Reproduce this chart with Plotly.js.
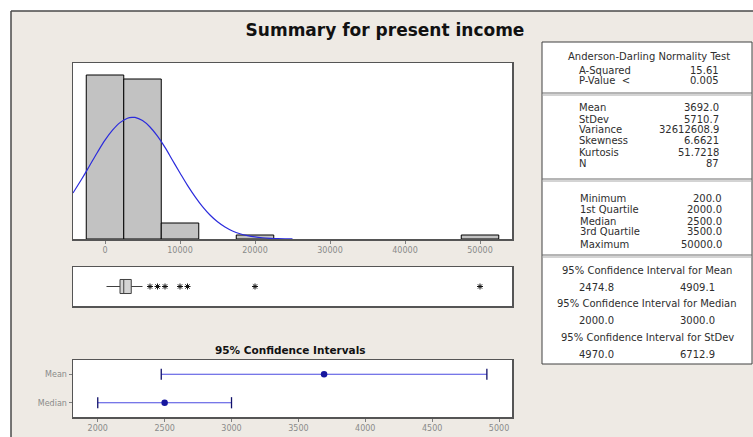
<!DOCTYPE html>
<html>
<head>
<meta charset="utf-8">
<script src="https://cdn.plot.ly/plotly-3.0.1.min.js"></script>
<style>html,body{margin:0;padding:0;background:#fff;}#chart{width:753px;height:437px;}</style>
</head>
<body>
<div id="chart"></div>
<script>
// ---------- data ----------
const histCenters = [0, 5000, 10000, 20000, 50000];
const histCounts = [41, 40, 4, 1, 1];
const histBinWidth = 5000;
const histTicks = [0, 10000, 20000, 30000, 40000, 50000];
const histTickText = ['0', '10000', '20000', '30000', '40000', '50000'];

// fitted normal curve (mean 3692.0, StDev 5710.7), read in bar-count units
const curveX = [-4267, -3000, -2000, -1000, 0, 1000, 2000, 3000, 3692, 4000, 5000, 6000, 7000, 8000, 9000, 10000, 11000, 12000, 13000, 14000, 15000, 16000, 17000, 18000, 19000, 20000, 21000, 22000, 23000, 24000, 25000];
const curveY = [11.5, 15.3, 18.5, 21.7, 24.7, 27.2, 29.1, 30.2, 30.4, 30.4, 29.6, 28.0, 25.7, 22.9, 19.7, 16.5, 13.4, 10.6, 8.1, 6.0, 4.3, 3.0, 2.0, 1.3, 0.84, 0.52, 0.31, 0.18, 0.10, 0.05, 0.03];

const boxLowerWhisker = [200];
const boxQ1 = [2000];
const boxMedian = [2500];
const boxQ3 = [3500];
const boxUpperWhisker = [5000];
const boxOutliers = [6000, 7000, 8000, 10000, 11000, 20000, 50000];

const ciLabels = ['Median', 'Mean'];
const ciCenter = [2500, 3692.0];
const ciLow = [2000, 2474.8];
const ciHigh = [3000, 4909.1];
const ciTicks = [2000, 2500, 3000, 3500, 4000, 4500, 5000];

const adLabels = ['A-Squared', 'P-Value  <'];
const adValues = ['15.61', '0.005'];
const descLabels = ['Mean', 'StDev', 'Variance', 'Skewness', 'Kurtosis', 'N'];
const descValues = ['3692.0', '5710.7', '32612608.9', '6.6621', '51.7218', '87'];
const quantLabels = ['Minimum', '1st Quartile', 'Median', '3rd Quartile', 'Maximum'];
const quantValues = ['200.0', '2000.0', '2500.0', '3500.0', '50000.0'];
const ciTableHeaders = ['95% Confidence Interval for Mean', '95% Confidence Interval for Median', '95% Confidence Interval for StDev'];
const ciTableLow = ['2474.8', '2000.0', '4970.0'];
const ciTableHigh = ['4909.1', '3000.0', '6712.9'];

// ---------- layout helpers ----------
const W = 753, H = 437;
const px = x => x / W;
const py = y => 1 - y / H;
const FONT = 'DejaVu Sans, Verdana, sans-serif';
const tickFont = {family: FONT, size: 8, color: '#8a8a8a'};
const tblFont = {family: FONT, size: 10, color: '#2e2e2e'};
const BORDER = '#555555';

const ciIdx = ciLabels.map((_, i) => i);

const traces = [
  {type: 'bar', x: histCenters, y: histCounts, width: histBinWidth, xaxis: 'x', yaxis: 'y',
   marker: {color: '#c2c2c2', line: {color: '#000000', width: 1}}, hoverinfo: 'skip'},
  {type: 'scatter', mode: 'lines', x: curveX, y: curveY, xaxis: 'x', yaxis: 'y',
   line: {color: '#2b2bdc', width: 1.2, shape: 'spline'}, hoverinfo: 'skip'},
  {type: 'box', orientation: 'h', y: [0], q1: boxQ1, median: boxMedian, q3: boxQ3,
   lowerfence: boxLowerWhisker, upperfence: boxUpperWhisker, xaxis: 'x2', yaxis: 'y2',
   width: 0.72, whiskerwidth: 0, boxpoints: false, fillcolor: '#d4d4d4',
   line: {color: '#404040', width: 1}, hoverinfo: 'skip'},
  {type: 'scatter', mode: 'markers', x: boxOutliers, y: boxOutliers.map(() => 0), xaxis: 'x2', yaxis: 'y2',
   marker: {symbol: 'asterisk-open', size: 5, color: '#111111', line: {color: '#111111', width: 1}}, hoverinfo: 'skip'},
  // interval lines
  {type: 'scatter', mode: 'markers', x: ciCenter, y: ciIdx, xaxis: 'x3', yaxis: 'y3',
   error_x: {type: 'data', symmetric: false,
     array: ciHigh.map((v, i) => v - ciCenter[i]),
     arrayminus: ciCenter.map((v, i) => v - ciLow[i]),
     color: '#4a4ae0', thickness: 1.2, width: 0},
   marker: {color: '#16169e', size: 6.5}, hoverinfo: 'skip'},
  // interval end caps
  {type: 'scatter', mode: 'markers', x: ciLow.concat(ciHigh), y: ciIdx.concat(ciIdx), xaxis: 'x3', yaxis: 'y3',
   marker: {symbol: 'line-ns-open', size: 8, color: '#10106a', line: {color: '#10106a', width: 1.3}}, hoverinfo: 'skip'}
];

const axisLine = {showline: true, mirror: true, linecolor: BORDER, linewidth: 1.5, zeroline: false, showgrid: false};

const annotations = [];
function txt(t, x, y, anchor, font) {
  annotations.push({text: t, x: px(x), y: py(y), xref: 'paper', yref: 'paper', xanchor: anchor, yanchor: 'middle', showarrow: false, font: font || tblFont});
}
// CI panel title
txt('<b>95% Confidence Intervals</b>', 290, 350, 'center', {family: FONT, size: 10.5, color: '#111111'});

// table text
txt('Anderson-Darling Normality Test', 649, 56, 'center');
const adY = [70, 81];
adLabels.forEach((l, i) => { txt(l, 577, adY[i], 'left'); txt(adValues[i], 721, adY[i], 'right'); });
const descY = [108, 119, 130, 141, 152, 163];
descLabels.forEach((l, i) => { txt(l, 577, descY[i], 'left'); txt(descValues[i], 721, descY[i], 'right'); });
const quantY = [198, 209, 221, 232, 244];
quantLabels.forEach((l, i) => { txt(l, 578, quantY[i], 'left'); txt(quantValues[i], 724, quantY[i], 'right'); });
const ciHdrY = [270, 303, 337];
ciTableHeaders.forEach((h, i) => {
  txt(h, 647, ciHdrY[i], 'center');
  txt(ciTableLow[i], 596, ciHdrY[i] + 17, 'center');
  txt(ciTableHigh[i], 697, ciHdrY[i] + 17, 'center');
});

function sep(y) {
  return [
    {type: 'line', xref: 'paper', yref: 'paper', x0: px(542), x1: px(752), y0: py(y - 1), y1: py(y - 1), line: {color: '#6a6a6a', width: 1}},
    {type: 'line', xref: 'paper', yref: 'paper', x0: px(542), x1: px(752), y0: py(y + 1), y1: py(y + 1), line: {color: '#a8a8a8', width: 1}}
  ];
}

const shapes = [
  // white margin strips and frame border
  {type: 'rect', xref: 'paper', yref: 'paper', x0: 0, x1: 1, y0: py(11), y1: 1, fillcolor: '#ffffff', line: {width: 0}, layer: 'below'},
  {type: 'rect', xref: 'paper', yref: 'paper', x0: 0, x1: px(11), y0: 0, y1: 1, fillcolor: '#ffffff', line: {width: 0}, layer: 'below'},
  {type: 'line', xref: 'paper', yref: 'paper', x0: px(11), x1: 1, y0: py(11), y1: py(11), line: {color: '#4a4a4a', width: 1.5}},
  {type: 'line', xref: 'paper', yref: 'paper', x0: px(11), x1: px(11), y0: py(11), y1: 0, line: {color: '#4a4a4a', width: 1.5}},
  // table box
  {type: 'rect', xref: 'paper', yref: 'paper', x0: px(542), x1: px(752), y0: py(364), y1: py(42), fillcolor: '#ffffff', line: {color: '#404040', width: 1}, layer: 'below'}
].concat(sep(94), sep(180), sep(256));

const layout = {
  width: W, height: H,
  margin: {l: 0, r: 0, t: 0, b: 0},
  paper_bgcolor: '#eeeae4',
  plot_bgcolor: '#ffffff',
  showlegend: false,
  title: {text: '<b>Summary for present income</b>', x: px(385), xanchor: 'center', y: py(30), yanchor: 'middle',
          font: {family: FONT, size: 17, color: '#111111'}},
  xaxis: Object.assign({}, axisLine, {domain: [px(73), px(512)], range: [-4267, 54267], anchor: 'y',
          tickvals: histTicks, ticktext: histTickText, ticks: 'outside', ticklen: 3, tickcolor: '#808080', tickfont: tickFont}),
  yaxis: Object.assign({}, axisLine, {domain: [py(239), py(63)], range: [0, 44], anchor: 'x', showticklabels: false, ticks: ''}),
  xaxis2: Object.assign({}, axisLine, {domain: [px(73), px(512)], range: [-4267, 54267], anchor: 'y2', showticklabels: false, ticks: ''}),
  yaxis2: Object.assign({}, axisLine, {domain: [py(306), py(267)], range: [-1, 1], anchor: 'x2', showticklabels: false, ticks: ''}),
  xaxis3: Object.assign({}, axisLine, {domain: [px(73), px(512)], range: [1815, 5097], anchor: 'y3',
          tickvals: ciTicks, ticks: 'outside', ticklen: 3, tickcolor: '#808080', tickfont: tickFont}),
  yaxis3: Object.assign({}, axisLine, {domain: [py(417), py(360)], range: [-0.5, 1.5], anchor: 'x3',
          tickvals: ciIdx, ticktext: ciLabels, ticks: 'outside', ticklen: 3, tickcolor: '#808080', tickfont: tickFont}),
  shapes: shapes,
  annotations: annotations
};

Plotly.newPlot('chart', traces, layout, {staticPlot: true, displayModeBar: false});
</script>
</body>
</html>
